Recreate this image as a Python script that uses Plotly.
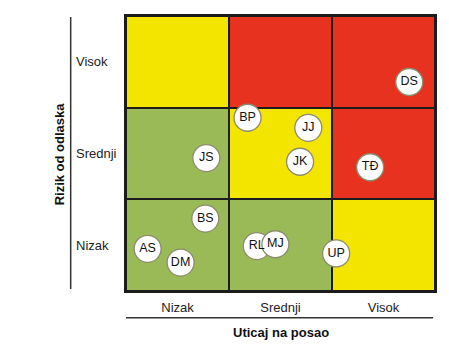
import plotly.graph_objects as go

levels = ["Nizak", "Srednji", "Visok"]
# risk zone per cell, rows bottom->top (Rizik), cols left->right (Uticaj): 0 green, 1 yellow, 2 red
zones = [[0, 0, 1],
         [0, 1, 2],
         [1, 2, 2]]
names = ["BP", "JJ", "JS", "JK", "BS", "AS", "DM", "RL", "MJ", "UP", "DS", "TĐ"]
impact = [1.18, 1.77, 0.78, 1.69, 0.77, 0.21, 0.53, 1.27, 1.45, 2.04, 2.75, 2.37]
risk = [1.89, 1.78, 1.45, 1.41, 0.79, 0.46, 0.31, 0.49, 0.51, 0.41, 2.28, 1.35]

centers = [0.5, 1.5, 2.5]
GREEN, YELLOW, RED = "#9aba58", "#f4e500", "#e6321f"
DARK = "#1c1c1c"
FONT = "Liberation Sans, Arial, sans-serif"

fig = go.Figure()
fig.add_trace(go.Heatmap(
    x=centers, y=centers, z=zones, zmin=0, zmax=2,
    colorscale=[[0, GREEN], [0.5, YELLOW], [1, RED]],
    showscale=False, xgap=2, ygap=2, hoverinfo="skip"))
fig.add_trace(go.Scatter(
    x=impact, y=risk, mode="markers+text", text=names,
    textposition="middle center",
    textfont=dict(family=FONT, size=12.5, color="#111111"),
    marker=dict(size=27, color="white", line=dict(color="#8c8c6e", width=1.3)),
    hoverinfo="text", showlegend=False))

fig.update_xaxes(range=[0, 3], showgrid=False, zeroline=False,
                 showline=True, mirror=True, linecolor=DARK, linewidth=1.5,
                 tickvals=centers, ticktext=levels, ticks="", ticklabelstandoff=4,
                 tickfont=dict(family=FONT, size=13, color="#222222"))
fig.update_yaxes(range=[0, 3], showgrid=False, zeroline=False,
                 showline=True, mirror=True, linecolor=DARK, linewidth=1.5,
                 showticklabels=False, ticks="")

annotations = []
for lv, yc in zip(levels, centers):
    annotations.append(dict(text=lv, x=-0.167, xref="paper", y=yc, yref="y",
                            xanchor="left", yanchor="middle", showarrow=False,
                            font=dict(family=FONT, size=13, color="#222222")))
annotations.append(dict(text="<b>Uticaj na posao</b>", x=0.5, xref="paper",
                        y=-0.15, yref="paper", xanchor="center", yanchor="middle",
                        showarrow=False, font=dict(family=FONT, size=13, color="#111111")))
annotations.append(dict(text="<b>Rizik od odlaska</b>", x=-0.214, xref="paper",
                        y=0.5, yref="paper", xanchor="center", yanchor="middle",
                        textangle=-90, showarrow=False,
                        font=dict(family=FONT, size=13, color="#111111")))

shapes = [
    dict(type="line", xref="paper", yref="paper", x0=-0.179, x1=-0.179, y0=0.007, y1=0.996,
         line=dict(color="#333333", width=1.5)),
    dict(type="line", xref="paper", yref="paper", x0=0, x1=0.994, y0=-0.097, y1=-0.097,
         line=dict(color="#333333", width=1.5)),
]

fig.update_layout(
    width=449, height=352,
    margin=dict(l=126, r=14, t=16, b=61),
    paper_bgcolor="white", plot_bgcolor=DARK,
    annotations=annotations, shapes=shapes, showlegend=False)

fig.write_html("out.html")
